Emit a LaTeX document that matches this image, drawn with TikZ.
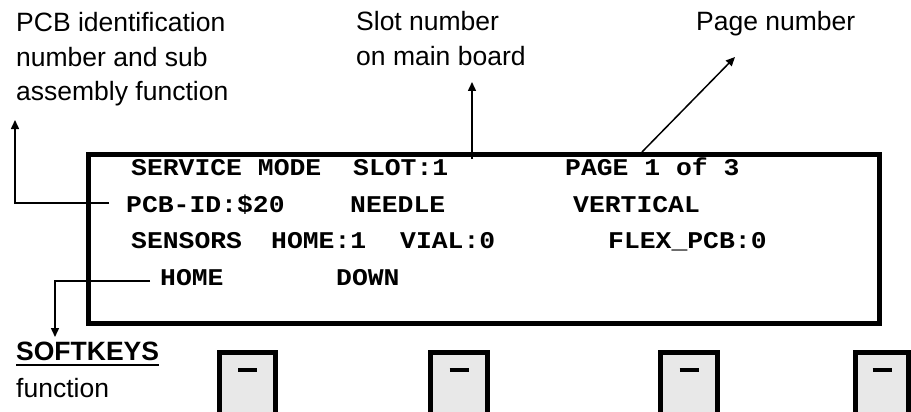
\documentclass[tikz,border=0pt]{standalone}
\usepackage{fontspec}
\setmainfont{Liberation Sans}
\newfontfamily\lcd[FakeStretch=1.1]{Liberation Mono}
\usetikzlibrary{arrows.meta}
\begin{document}
\begin{tikzpicture}[x=1pt,y=-1pt,
  lbl/.style={anchor=base west,inner sep=0pt,font=\fontsize{26.5}{35}\selectfont,align=left},
  lcdtxt/.style={anchor=base west,inner sep=0pt,font=\lcd\bfseries\fontsize{24}{28}\selectfont},
  conn/.style={line width=1.5pt,-{Triangle[length=9pt,width=8pt]}},
  frame/.style={line width=5pt},
  keybox/.style={line width=5pt,fill=black!9},
  keydash/.style={line width=4pt}]
\useasboundingbox (0,0) rectangle (911,412);

% labels (anchor = baseline of the last line)
\node[lbl] (pcblbl) at (16,101) {PCB identification\\number and sub\\assembly function};
\node[lbl] (slotlbl) at (356,66) {Slot number\\on main board};
\node[lbl] (pagelbl) at (696,31) {Page number};
\node[lbl,font=\bfseries\fontsize{26.5}{35}\selectfont] (soft) at (16,360) {SOFTKEYS};
\draw[line width=2.2pt] ([yshift=-5pt]soft.base west) -- ([yshift=-5pt]soft.base east);
\node[lbl] (func) at (16,397) {function};

% display frame
\draw[frame] (88,154) rectangle (879.5,323);

% display text
\node[lcdtxt] (l1a) at (131,175) {SERVICE MODE};
\node[lcdtxt] (l1b) at (353,175) {SLOT:1};
\node[lcdtxt] (l1c) at (565,175) {PAGE 1 of 3};
\node[lcdtxt] (l2a) at (126,212) {PCB-ID:\$20};
\node[lcdtxt] (l2b) at (350,212) {NEEDLE};
\node[lcdtxt] (l2c) at (573,212) {VERTICAL};
\node[lcdtxt] (l3a) at (131,248) {SENSORS};
\node[lcdtxt] (l3b) at (271,248) {HOME:1};
\node[lcdtxt] (l3c) at (400,248) {VIAL:0};
\node[lcdtxt] (l3d) at (608,248) {FLEX\_PCB:0};
\node[lcdtxt] (l4a) at (160,285) {HOME};
\node[lcdtxt] (l4b) at (336,285) {DOWN};

% connectors
\coordinate (pcbstart) at (109,203);
\coordinate (pcbtip) at (15,120);
\draw[conn] (pcbstart) -| (pcbtip);
\coordinate (slotstart) at (472,159);
\coordinate (slottip) at (472,82);
\draw[conn] (slotstart) -- (slottip);
\coordinate (pagestart) at (642,152);
\coordinate (pagetip) at (735,57);
\draw[conn] (pagestart) -- (pagetip);
\coordinate (softstart) at (150,281);
\coordinate (softtip) at (55,337);
\draw[conn] (softstart) -| (softtip);

% softkeys
\foreach \a/\b in {217/278,428/490,658/720,853/911}{
  \draw[keybox] (\a+2.5,352.5) rectangle (\b-2.5,430);
  \draw[keydash] ({(\a+\b)/2-9.5},370) -- ({(\a+\b)/2+9.5},370);
}
\end{tikzpicture}
\end{document}
